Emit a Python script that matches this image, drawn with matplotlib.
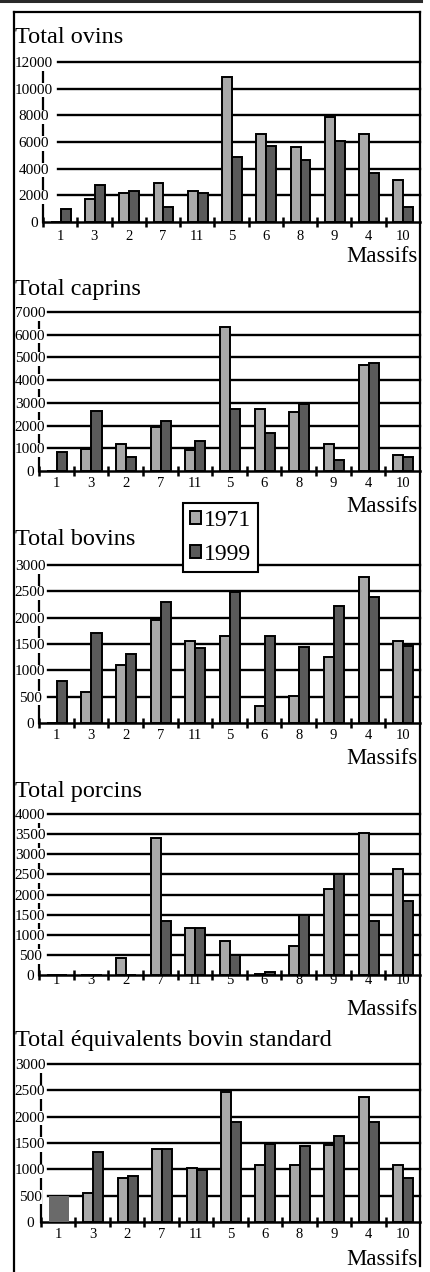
import numpy as np
import matplotlib
matplotlib.use("Agg")
import matplotlib.pyplot as plt
from matplotlib.lines import Line2D
from matplotlib.patches import Patch

plt.rcParams["font.family"] = ["Liberation Serif", "DejaVu Serif"]

W, H = 430, 1272

massifs = ["1", "3", "2", "7", "11", "5", "6", "8", "9", "4", "10"]
years = ["1971", "1999"]

ovins_1971 = [0, 1700, 2150, 2950, 2350, 10850, 6600, 5650, 7900, 6600, 3150]
ovins_1999 = [950, 2750, 2350, 1150, 2150, 4850, 5700, 4650, 6100, 3650, 1150]

caprins_1971 = [0, 950, 1200, 1930, 930, 6320, 2720, 2600, 1200, 4680, 700]
caprins_1999 = [850, 2620, 600, 2180, 1320, 2740, 1690, 2960, 490, 4750, 600]

bovins_1971 = [0, 580, 1100, 1960, 1550, 1660, 320, 520, 1250, 2780, 1560]
bovins_1999 = [790, 1700, 1310, 2290, 1420, 2480, 1660, 1450, 2230, 2390, 1470]

porcins_1971 = [0, 0, 420, 3400, 1160, 850, 30, 720, 2130, 3520, 2640]
porcins_1999 = [0, 0, 0, 1330, 1160, 500, 80, 1480, 2510, 1330, 1850]

ebs_1971 = [0, 550, 830, 1380, 1030, 2460, 1080, 1080, 1470, 2380, 1080]
ebs_1999 = [500, 1330, 880, 1380, 990, 1900, 1490, 1450, 1640, 1900, 830]

LIGHT = "#a9a9a9"
DARK = "#5a5a5a"
RIGHT = 420  # right edge of the frame / plots, in px


def fx(px):
    return px / W


def fy(py):
    return 1 - py / H


fig = plt.figure(figsize=(W / 100, H / 100), dpi=100)


def panel(title, v71, v99, ymax, step, top, zero, left, title_base, mass_base,
          lab_center, xpad, grid_start, wide_first=False):
    ax = fig.add_axes([fx(left), fy(zero), fx(RIGHT) - fx(left), (zero - top) / H])
    x = np.arange(len(massifs))
    b71 = ax.bar(x - 0.13, v71, width=0.29, color=LIGHT, edgecolor="black", linewidth=1.4, zorder=3)
    b99 = ax.bar(x + 0.16, v99, width=0.29, color=DARK, edgecolor="black", linewidth=1.4, zorder=3)
    if wide_first:
        # first massif drawn as a single wide, unoutlined bar in the scan
        b99[0].set_x(b71[0].get_x())
        b99[0].set_width(0.58)
        b99[0].set_linewidth(0)
        b99[0].set_facecolor("#6a6a6a")

    ax.set_xlim(-0.5, len(massifs) - 0.5)
    ax.set_ylim(0, ymax)

    ticks = np.arange(0, ymax + 1, step)
    gs = (grid_start - left) / (RIGHT - left)
    for t in ticks[1:]:
        ax.axhline(t, xmin=gs, xmax=1, color="black", lw=1.7, zorder=2, clip_on=False)

    for s in ("top", "right"):
        ax.spines[s].set_visible(False)
    ax.spines["left"].set_linewidth(1.6)
    ax.spines["bottom"].set_linewidth(1.8)

    ax.set_yticks(ticks)
    ax.set_yticklabels([str(int(t)) for t in ticks], ha="center", fontsize=11)
    ax.tick_params(axis="y", length=0, pad=(left - lab_center) * 0.72)
    for lab in ax.get_yticklabels():
        lab.set_bbox(dict(facecolor="white", edgecolor="none", pad=0.6))
    ax.yaxis.set_zorder(4)

    ax.set_xticks(np.arange(len(massifs)) - 0.5)
    ax.set_xticklabels([])
    ax.set_xticks(x, minor=True)
    ax.set_xticklabels(massifs, minor=True, fontsize=10.5)
    ax.tick_params(axis="x", which="major", direction="inout", length=7, width=1.8)
    ax.tick_params(axis="x", which="minor", length=0, pad=xpad)

    fig.text(fx(15), fy(title_base), title, fontsize=17.5, ha="left", va="baseline")
    fig.text(fx(418), fy(mass_base), "Massifs", fontsize=16.5, ha="right", va="baseline")
    return ax


panel("Total ovins", ovins_1971, ovins_1999, 12000, 2000, 62, 222, 43, 43, 262, 34, 5.5, 58)
panel("Total caprins", caprins_1971, caprins_1999, 7000, 1000, 312, 471, 39, 295, 512, 30, 4.5, 48)
panel("Total bovins", bovins_1971, bovins_1999, 3000, 500, 565, 723, 39, 545, 764, 30, 4.5, 48)
panel("Total porcins", porcins_1971, porcins_1999, 4000, 500, 814, 975, 39, 797, 1015, 30, -1, 48)
panel("Total équivalents bovin standard", ebs_1971, ebs_1999, 3000, 500, 1064, 1222, 41,
      1046, 1265, 30, 4, 48, wide_first=True)

handles = [
    Patch(facecolor=LIGHT, edgecolor="black", linewidth=1.4, label=years[0]),
    Patch(facecolor=DARK, edgecolor="black", linewidth=1.4, label=years[1]),
]
leg = fig.legend(handles=handles, loc="upper left", bbox_to_anchor=(fx(183), fy(503)),
                 fontsize=17, frameon=True, fancybox=False, edgecolor="black", framealpha=1,
                 handlelength=0.45, handleheight=0.45, handletextpad=0.12,
                 labelspacing=0.55, borderpad=0.3, borderaxespad=0)
leg.get_frame().set_linewidth(1.5)

# scan frame: dark rule on top, open box around the panels
fig.add_artist(Line2D([0, fx(421)], [fy(1.3), fy(1.3)], color="#2a2a2a", lw=2.2))
fig.add_artist(Line2D([fx(13.5), fx(13.5)], [fy(11.7), fy(1272)], color="black", lw=1.6))
fig.add_artist(Line2D([fx(13.5), fx(RIGHT)], [fy(11.7), fy(11.7)], color="black", lw=1.6))
fig.add_artist(Line2D([fx(RIGHT), fx(RIGHT)], [fy(11.7), fy(1266)], color="black", lw=1.6))

fig.savefig("out.png", dpi=100)
